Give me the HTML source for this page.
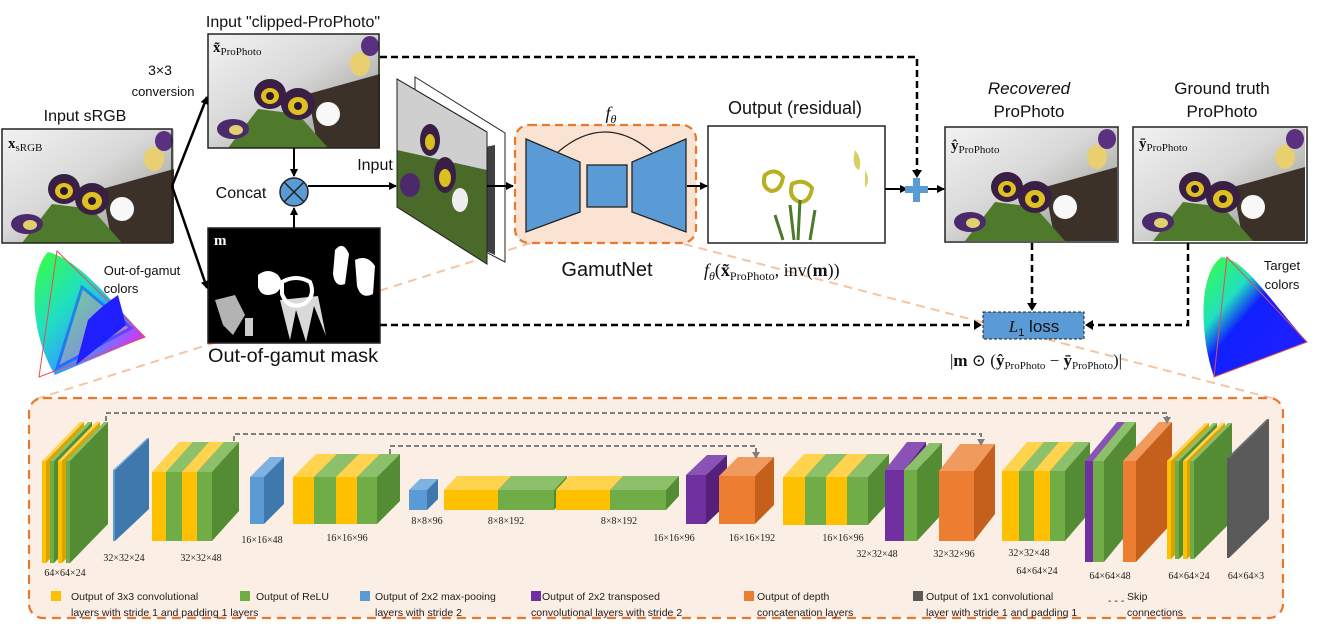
<!DOCTYPE html>
<html><head><meta charset="utf-8"><style>
html,body{margin:0;padding:0;background:#fff;width:1332px;height:624px;overflow:hidden}
svg{display:block}
text{font-family:"Liberation Sans","DejaVu Sans",sans-serif;fill:#111}
.serif{font-family:"Liberation Serif","DejaVu Serif",serif}
.dim{font-size:10px;text-anchor:middle;font-family:"Liberation Serif",serif;fill:#222}
.lg{font-size:10.5px;fill:#222}
</style></head><body>
<svg id="s" width="1332" height="624" viewBox="0 0 1332 624" xmlns="http://www.w3.org/2000/svg">
<defs>
<marker id="ah" markerWidth="8" markerHeight="8" refX="7" refY="4" orient="auto" markerUnits="userSpaceOnUse"><path d="M0,0 L8,4 L0,8 z" fill="#000"/></marker>
<marker id="ag" markerWidth="8" markerHeight="8" refX="7" refY="4" orient="auto" markerUnits="userSpaceOnUse"><path d="M0,0 L8,4 L0,8 z" fill="#777"/></marker>
<linearGradient id="bg" x1="0" y1="0" x2="1" y2="1"><stop offset="0" stop-color="#f2f2f2"/><stop offset="0.45" stop-color="#d8d8d8"/><stop offset="1" stop-color="#8a8a80"/></linearGradient>
<linearGradient id="gam" x1="0" y1="0" x2="1" y2="1"><stop offset="0" stop-color="#3cff3c"/><stop offset="0.35" stop-color="#20e0c0"/><stop offset="0.6" stop-color="#30a0ff"/><stop offset="0.8" stop-color="#c040ff"/><stop offset="1" stop-color="#ff2040"/></linearGradient>
<linearGradient id="gam2" x1="0" y1="0" x2="1" y2="1"><stop offset="0" stop-color="#3cff3c"/><stop offset="0.3" stop-color="#20e0c0"/><stop offset="0.45" stop-color="#1020ff"/><stop offset="0.85" stop-color="#2020ff"/><stop offset="1" stop-color="#ff2040"/></linearGradient>
<g id="photo">
<rect width="172" height="114" fill="url(#bg)"/>
<path d="M100,60 L172,40 L172,114 L110,114z" fill="#3b3129"/>
<path d="M20,114 L50,75 L90,80 L120,114z" fill="#4f7a2c"/>
<ellipse cx="62" cy="60" rx="16" ry="15" fill="#3a1f45"/>
<ellipse cx="62" cy="62" rx="9" ry="8" fill="#e0c020"/>
<ellipse cx="62" cy="62" rx="4" ry="4" fill="#2a1830"/>
<ellipse cx="90" cy="70" rx="17" ry="16" fill="#3a1f45"/>
<ellipse cx="90" cy="72" rx="10" ry="9" fill="#e0c020"/>
<ellipse cx="90" cy="72" rx="4" ry="4" fill="#2a1830"/>
<ellipse cx="120" cy="80" rx="12" ry="12" fill="#f8f8f8"/>
<ellipse cx="152" cy="30" rx="10" ry="12" fill="#e8d070"/>
<ellipse cx="162" cy="12" rx="9" ry="10" fill="#5a3080"/>
<ellipse cx="25" cy="95" rx="16" ry="10" fill="#4a2a6a"/>
<ellipse cx="28" cy="96" rx="7" ry="5" fill="#e0d070"/>
</g>
</defs>

<!-- bottom box and peach connectors -->
<line x1="531" y1="243" x2="36" y2="399" stroke="#f6c4a0" stroke-width="2" stroke-dasharray="9,6"/>
<line x1="684" y1="244" x2="1275" y2="399" stroke="#f6c4a0" stroke-width="2" stroke-dasharray="9,6"/>
<rect x="29" y="398" width="1254" height="220" rx="14" fill="#fbeee4" stroke="#e8782e" stroke-width="2.2" stroke-dasharray="9,6"/>

<!-- top photos -->
<use href="#photo" x="2" y="129"/><rect x="2" y="129" width="170" height="114" fill="none" stroke="#222" stroke-width="1.5"/>
<text x="8" y="148" class="serif" font-size="15" font-weight="bold">x<tspan font-size="11" font-weight="normal" dy="3">sRGB</tspan></text>
<text x="85" y="121" font-size="16" text-anchor="middle">Input sRGB</text>

<use href="#photo" x="208" y="34"/><rect x="208" y="34" width="171" height="114" fill="none" stroke="#222" stroke-width="1.5"/>
<text x="213" y="52" class="serif" font-size="15" font-weight="bold">x̃<tspan font-size="11" font-weight="normal" dy="3">ProPhoto</tspan></text>
<text x="293" y="27" font-size="16" text-anchor="middle">Input "clipped-ProPhoto"</text>
<text x="160" y="75" font-size="14" text-anchor="middle">3×3</text>
<text x="163" y="96" font-size="13" text-anchor="middle">conversion</text>

<!-- mask -->
<rect x="208" y="228" width="172" height="115" fill="#000" stroke="#222" stroke-width="1.5"/>
<g fill="#fff">
<path d="M258,275 q10,-8 20,0 q8,10 -2,18 q-14,6 -18,-6z"/>
<path d="M282,282 q14,-8 28,0 q6,14 -6,22 q-16,6 -22,-10z" fill="none" stroke="#fff" stroke-width="4"/>
<path d="M280,300 l10,40 l6,-30 l10,32 l8,-36 l12,30 l-8,-40z" opacity="0.85"/>
<path d="M335,250 q8,-10 14,4 l-4,30 q-10,4 -12,-10z"/>
<path d="M355,260 q12,-6 20,6 l-2,28 q-12,6 -16,-8z"/>
<path d="M215,300 l20,-5 l10,20 l-12,20 l-10,-10z" opacity="0.7"/>
<rect x="245" y="318" width="8" height="18" opacity="0.8"/>
</g>
<text x="214" y="245" class="serif" font-size="15" font-weight="bold" style="fill:#fff">m</text>
<text x="293" y="362" font-size="19" text-anchor="middle" textLength="170" lengthAdjust="spacingAndGlyphs">Out-of-gamut mask</text>

<!-- arrows sRGB -->
<line x1="172" y1="186" x2="207" y2="97" stroke="#000" stroke-width="2.5" marker-end="url(#ah)"/>
<line x1="172" y1="186" x2="207" y2="288" stroke="#000" stroke-width="2.5" marker-end="url(#ah)"/>
<!-- concat -->
<line x1="294" y1="148" x2="294" y2="176" stroke="#000" stroke-width="2" marker-end="url(#ah)"/>
<line x1="294" y1="228" x2="294" y2="208" stroke="#000" stroke-width="2" marker-end="url(#ah)"/>
<circle cx="294" cy="192" r="14" fill="#5b9bd5" stroke="#222" stroke-width="1.5"/>
<path d="M284,182 L304,202 M304,182 L284,202" stroke="#222" stroke-width="1.5"/>
<text x="241" y="198" font-size="16" text-anchor="middle">Concat</text>
<line x1="308" y1="186" x2="396" y2="186" stroke="#000" stroke-width="2" marker-end="url(#ah)"/>
<text x="375" y="170" font-size="16" text-anchor="middle">Input</text>

<!-- stack -->
<path d="M415,77 L505,133 L505,262 L415,215z" fill="#fff" stroke="#222" stroke-width="1"/>
<path d="M470,150 q10,20 -5,40 q15,20 -5,50 l35,15 l0,-110z" fill="#111" opacity="0.8"/>
<path d="M397,79 L487,132 L487,264 L397,207z" fill="#cfcfcf" stroke="#222" stroke-width="1"/>
<path d="M397,150 L487,170 L487,264 L397,207z" fill="#4a6a2a"/>
<ellipse cx="430" cy="140" rx="10" ry="16" fill="#3a1f45"/><ellipse cx="430" cy="142" rx="5" ry="8" fill="#d8c020"/>
<ellipse cx="445" cy="175" rx="11" ry="18" fill="#3a1f45"/><ellipse cx="445" cy="178" rx="6" ry="9" fill="#d8c020"/>
<ellipse cx="410" cy="185" rx="10" ry="12" fill="#4a2a6a"/>
<ellipse cx="460" cy="200" rx="8" ry="12" fill="#eee"/>
<path d="M397,79 L487,132 L487,264 L397,207z" fill="none" stroke="#222" stroke-width="1"/>
<line x1="487" y1="186" x2="513" y2="186" stroke="#000" stroke-width="2" marker-end="url(#ah)"/>

<!-- GamutNet -->
<rect x="515" y="125" width="181" height="118" rx="14" fill="#fbe3d3" stroke="#e8782e" stroke-width="2.2" stroke-dasharray="8,5"/>
<path d="M558,152 Q605,112 652,152" fill="none" stroke="#222" stroke-width="1.3"/>
<path d="M526,139 L580,162 L580,212 L526,232z" fill="#5b9bd5" stroke="#222" stroke-width="1.3"/>
<rect x="587" y="165" width="40" height="42" fill="#5b9bd5" stroke="#222" stroke-width="1.3"/>
<path d="M686,139 L632,162 L632,212 L686,232z" fill="#5b9bd5" stroke="#222" stroke-width="1.3"/>
<text x="611" y="119" class="serif" font-size="18" font-style="italic" text-anchor="middle">f<tspan font-size="12" dy="4">θ</tspan></text>
<text x="607" y="276" font-size="20" text-anchor="middle">GamutNet</text>
<line x1="687" y1="186" x2="707" y2="186" stroke="#000" stroke-width="2" marker-end="url(#ah)"/>

<!-- output residual -->
<rect x="708" y="126" width="177" height="117" fill="#fff" stroke="#222" stroke-width="1.5"/>
<path d="M765,175 q10,-8 18,2 q-2,14 -12,14 q-10,-4 -6,-16z" fill="none" stroke="#b8b020" stroke-width="4"/>
<path d="M792,184 q12,-6 20,4 q-2,14 -12,14 q-12,-4 -8,-18z" fill="none" stroke="#b8b020" stroke-width="4"/>
<path d="M790,205 l4,35 M800,200 l-2,40 M775,215 l8,25 M815,210 l-5,30" stroke="#4a7a2a" stroke-width="3"/>
<path d="M855,150 q8,10 4,20 q-8,-4 -4,-20z M865,170 q6,10 0,18z" fill="#d8d060"/>
<text x="795" y="114" font-size="18" text-anchor="middle">Output (residual)</text>
<text x="704" y="276" class="serif" font-size="18"><tspan font-style="italic">f</tspan><tspan font-size="12" font-style="italic" dy="4">θ</tspan><tspan dy="-4">(</tspan><tspan font-weight="bold">x̃</tspan><tspan font-size="12" dy="4">ProPhoto</tspan><tspan dy="-4">, inv(</tspan><tspan font-weight="bold">m</tspan>))</text>

<!-- plus -->
<line x1="885" y1="189" x2="907" y2="189" stroke="#000" stroke-width="2" marker-end="url(#ah)"/>
<path d="M913,178 h7 v8 h8 v7 h-8 v9 h-7 v-9 h-8 v-7 h8z" fill="#5b9bd5"/>
<line x1="928" y1="189" x2="944" y2="189" stroke="#000" stroke-width="2" marker-end="url(#ah)"/>
<path d="M380,57 H917 V176" fill="none" stroke="#000" stroke-width="2.5" stroke-dasharray="7,4"/>
<path d="M912,170 L917,178 L922,170z" fill="#000"/>

<!-- recovered & GT -->
<use href="#photo" x="945" y="127"/><rect x="945" y="127" width="173" height="115" fill="none" stroke="#222" stroke-width="1.5"/>
<text x="951" y="150" class="serif" font-size="15" font-weight="bold">ŷ<tspan font-size="11" font-weight="normal" dy="3">ProPhoto</tspan></text>
<text x="1029" y="94" font-size="17" font-style="italic" text-anchor="middle">Recovered</text>
<text x="1029" y="117" font-size="17" text-anchor="middle">ProPhoto</text>
<use href="#photo" x="1133" y="127"/><rect x="1133" y="127" width="174" height="116" fill="none" stroke="#222" stroke-width="1.5"/>
<text x="1139" y="148" class="serif" font-size="15" font-weight="bold">ȳ<tspan font-size="11" font-weight="normal" dy="3">ProPhoto</tspan></text>
<text x="1222" y="94" font-size="17" text-anchor="middle">Ground truth</text>
<text x="1222" y="117" font-size="17" text-anchor="middle">ProPhoto</text>

<!-- loss -->
<path d="M380,325 H978" fill="none" stroke="#000" stroke-width="2.5" stroke-dasharray="7,4"/>
<path d="M974,320 L982,325 L974,330z" fill="#000"/>
<path d="M1032,243 V306" fill="none" stroke="#000" stroke-width="2.5" stroke-dasharray="7,4"/>
<path d="M1027,303 L1032,311 L1037,303z" fill="#000"/>
<path d="M1188,243 V325 H1090" fill="none" stroke="#000" stroke-width="2.5" stroke-dasharray="7,4"/>
<path d="M1093,320 L1085,325 L1093,330z" fill="#000"/>
<rect x="983" y="312" width="101" height="27" fill="#5b9bd5" stroke="#222" stroke-width="1" stroke-dasharray="3,2"/>
<text x="1034" y="332" font-size="17" text-anchor="middle"><tspan class="serif" font-style="italic">L</tspan><tspan font-size="11" dy="4">1</tspan><tspan dy="-4"> loss</tspan></text>
<text x="1036" y="366" class="serif" font-size="17" text-anchor="middle">|<tspan font-weight="bold">m</tspan> ⊙ (<tspan font-weight="bold">ŷ</tspan><tspan font-size="11" dy="3">ProPhoto</tspan><tspan dy="-3"> − </tspan><tspan font-weight="bold">ȳ</tspan><tspan font-size="11" dy="3">ProPhoto</tspan><tspan dy="-3">)|</tspan></text>

<!-- gamuts -->
<path d="M48,252 C30,270 28,330 55,375 L145,337 C110,300 80,260 48,252z" fill="url(#gam)"/>
<path d="M57,251 L145,337 L39,377z" fill="none" stroke="#e05050" stroke-width="1"/>
<path d="M82,287 L131,328 L57,368z" fill="#f0a080" opacity="0.4" stroke="#1a1aff" stroke-width="3"/>
<path d="M88,320 q15,-15 30,-25 l8,30 l-50,40z" fill="#2020ff"/>
<text x="142" y="275" font-size="13" text-anchor="middle">Out-of-gamut</text>
<text x="121" y="293" font-size="13" text-anchor="middle">colors</text>

<path d="M1222,257 C1200,270 1198,330 1214,377 L1307,342 C1270,300 1245,260 1222,257z" fill="url(#gam2)"/>
<path d="M1227,257 L1307,342 L1214,377z" fill="none" stroke="#e05050" stroke-width="1"/>
<text x="1282" y="270" font-size="13" text-anchor="middle">Target</text>
<text x="1282" y="289" font-size="13" text-anchor="middle">colors</text>

<g id="layers"></g>

<!-- skip connections -->
<g fill="none" stroke="#7f7f7f" stroke-width="2" stroke-dasharray="5,3">
<path d="M106,421 V413 H1167 V418"/>
<path d="M234,441 V434 H981 V440"/>
<path d="M390,454 V446 H756 V453"/>
</g>
<g fill="#7f7f7f"><path d="M1163,417 L1167,424 L1171,417z"/><path d="M977,439 L981,446 L985,439z"/><path d="M752,452 L756,459 L760,452z"/></g>

<!-- dims -->
<text class="dim" x="65" y="576">64×64×24</text>
<text class="dim" x="124" y="561">32×32×24</text>
<text class="dim" x="201" y="561">32×32×48</text>
<text class="dim" x="262" y="543">16×16×48</text>
<text class="dim" x="347" y="541">16×16×96</text>
<text class="dim" x="427" y="524">8×8×96</text>
<text class="dim" x="506" y="524">8×8×192</text>
<text class="dim" x="619" y="524">8×8×192</text>
<text class="dim" x="674" y="541">16×16×96</text>
<text class="dim" x="752" y="541">16×16×192</text>
<text class="dim" x="843" y="541">16×16×96</text>
<text class="dim" x="877" y="557">32×32×48</text>
<text class="dim" x="954" y="557">32×32×96</text>
<text class="dim" x="1029" y="556">32×32×48</text>
<text class="dim" x="1037" y="574">64×64×24</text>
<text class="dim" x="1110" y="579">64×64×48</text>
<text class="dim" x="1189" y="579">64×64×24</text>
<text class="dim" x="1246" y="579">64×64×3</text>

<!-- legend -->
<rect x="51" y="591" width="10" height="10" fill="#ffc000"/>
<text class="lg" x="71" y="600">Output of 3x3 convolutional</text>
<text class="lg" x="71" y="616">layers with stride 1 and padding 1 layers</text>
<rect x="240" y="591" width="10" height="10" fill="#70ad47"/>
<text class="lg" x="256" y="600">Output of ReLU</text>
<rect x="360" y="591" width="10" height="10" fill="#5b9bd5"/>
<text class="lg" x="375" y="600">Output of 2x2 max-pooing</text>
<text class="lg" x="375" y="616">layers with stride 2</text>
<rect x="531" y="591" width="10" height="10" fill="#7030a0"/>
<text class="lg" x="542" y="600">Output of 2x2 transposed</text>
<text class="lg" x="531" y="616">convolutional layers with stride 2</text>
<rect x="744" y="591" width="10" height="10" fill="#ed7d31"/>
<text class="lg" x="757" y="600">Output of depth</text>
<text class="lg" x="757" y="616">concatenation layers</text>
<rect x="913" y="591" width="10" height="10" fill="#595959"/>
<text class="lg" x="926" y="600">Output of 1x1 convolutional</text>
<text class="lg" x="926" y="616">layer with stride 1 and padding 1</text>
<text class="lg" x="1108" y="604">- - -</text>
<text class="lg" x="1127" y="600">Skip</text>
<text class="lg" x="1127" y="616">connections</text>
</svg>
<script>
var C={Y:["#ffc000","#ffd34d","#d9a300"],G:["#70ad47","#8dc06b","#548c33"],B:["#5b9bd5","#7fb2e0","#3f78ad"],P:["#7030a0","#8a52b5","#54207a"],O:["#ed7d31","#f19a5e","#c4601c"],K:["#595959","#6e6e6e","#5a5a5a"]};
var L=[
["Y",42,461,4,102,38,-39],["G",50,461,4,102,38,-39],["Y",58,461,4,102,38,-39],["G",66,461,4,102,38,-39],
["B",113,470,2,71,34,-32],
["Y",152,472,14,69,27,-30],["G",166,472,16,69,27,-30],["Y",182,472,15,69,27,-30],["G",197,472,15,69,27,-30],
["B",250,477,14,47,20,-20],
["Y",293,477,21,47,23,-23],["G",314,477,22,47,23,-23],["Y",336,477,21,47,23,-23],["G",357,477,20,47,23,-23],
["B",409,490,18,20,11,-11],
["Y",444,490,54,20,13,-14],["G",498,490,56,20,13,-14],["Y",556,490,54,20,13,-14],["G",610,490,56,20,13,-14],
["P",686,475,20,49,21,-20],["O",719,476,36,48,19,-19],
["Y",783,477,22,48,21,-23],["G",805,477,21,48,21,-23],["Y",826,477,21,48,21,-23],["G",847,477,21,48,21,-23],
["P",885,470,19,71,22,-28],["G",904,470,13,71,25,-27],["O",939,471,35,70,21,-27],
["Y",1002,471,17,70,25,-29],["G",1019,471,15,70,25,-29],["Y",1034,471,16,70,25,-29],["G",1050,471,15,70,25,-29],
["P",1085,461,8,101,32,-39],["G",1093,461,11,101,32,-39],["O",1123,461,13,101,36,-39],
["Y",1167,461,4,98,38,-38],["G",1175,461,4,98,38,-38],["Y",1183,461,4,98,38,-38],["G",1190,461,4,98,38,-38],
["K",1227,458,2,100,40,-39]];
var g=document.getElementById("layers"),h="";
L.forEach(function(a){var c=C[a[0]],x=a[1],y=a[2],w=a[3],hh=a[4],dx=a[5],dy=a[6];
h+='<polygon points="'+x+','+y+' '+(x+w)+','+y+' '+(x+w+dx)+','+(y+dy)+' '+(x+dx)+','+(y+dy)+'" fill="'+c[1]+'"/>';
h+='<polygon points="'+(x+w)+','+y+' '+(x+w+dx)+','+(y+dy)+' '+(x+w+dx)+','+(y+hh+dy)+' '+(x+w)+','+(y+hh)+'" fill="'+c[2]+'"/>';
h+='<rect x="'+x+'" y="'+y+'" width="'+w+'" height="'+hh+'" fill="'+c[0]+'"/>';});
g.innerHTML=h;
</script>
</body></html>
